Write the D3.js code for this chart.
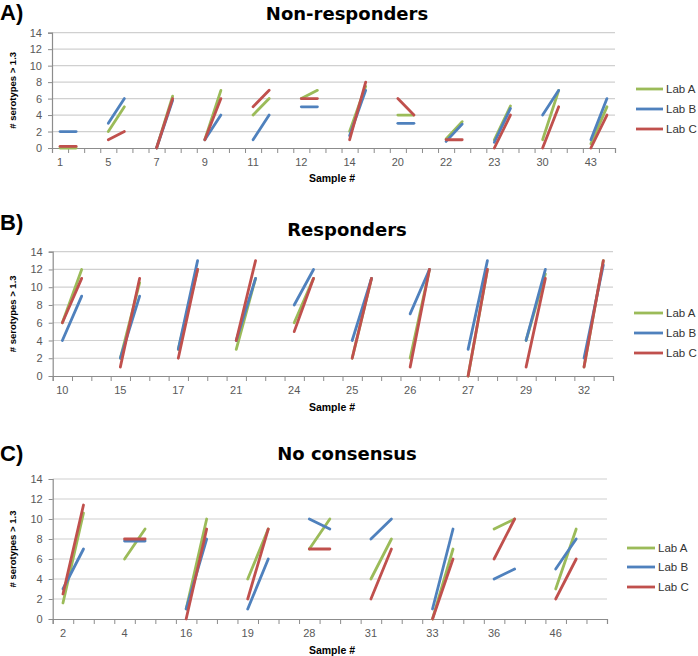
<!DOCTYPE html>
<html>
<head>
<meta charset="utf-8">
<script src="https://cdn.jsdelivr.net/npm/d3@7"></script>
<style>
  html, body { margin: 0; padding: 0; background: #fff; }
  svg { display: block; }
</style>
</head>
<body>
<svg id="chart" width="698" height="656"></svg>
<script>
// ---------- DATA ----------
const labs = ["Lab A", "Lab B", "Lab C"];
const labColors = ["#9BBB59", "#4F81BD", "#C0504D"];
const yTicks = [0, 2, 4, 6, 8, 10, 12, 14];

// Panel A: Non-responders  (each pair = [pre, post])
const samplesA = ["1", "5", "7", "9", "11", "12", "14", "20", "22", "23", "30", "43"];
const labA_A = [[0,0],[2,5],[0,6.3],[1,7],[4,6],[6,7],[2,7.5],[4,4],[1.1,3.2],[1,5.1],[1,7],[0.5,5]];
const labB_A = [[2,2],[3,6],[0,5.8],[1,4],[1,4],[5,5],[1.5,7],[3,3],[0.8,2.9],[0.7,4.8],[4,7],[1,6]];
const labC_A = [[0.2,0.2],[1,2],[0,6],[1,6],[5,7],[6,6],[1,8],[6,4],[1,1],[0,4],[0,5],[0,4]];

// Panel B: Responders
const samplesB = ["10", "15", "17", "21", "24", "25", "26", "27", "29", "32"];
const labA_B = [[6,12],[2,10.5],[3,12],[3,11],[6,11],[2,11],[2,12],[0,12],[4,11.5],[1,13]];
const labB_B = [[4,9],[2,9],[3,13],[4,11],[8,12],[4,11],[7,12],[3,13],[4,12],[2,12.5]];
const labC_B = [[6,11],[1,11],[2,12],[4,13],[5,11],[2,11],[1,12],[0,12],[1,11],[1,13]];

// Panel C: No consensus
const samplesC = ["2", "4", "16", "19", "28", "31", "33", "36", "46"];
const labA_C = [[1.6,10.6],[6,9],[1,10],[4,9],[7,10],[4,8],[0,7],[9,10],[3,9]];
const labB_C = [[3,7],[7.8,7.8],[1,8],[1,6],[10,9],[8,10],[1,9],[4,5],[5,8]];
const labC_C = [[2.5,11.4],[8,8],[0,9],[2,9],[7,7],[2,7],[0,6],[6,10],[2,6]];

// ---------- LAYOUT ----------
const panels = [
  { letter: "A)", title: "Non-responders", samples: samplesA, series: [labA_A, labB_A, labC_A], trailingBlank: false,
    x0: 52, x1: 615, yTop: 32.7, yBot: 148, letterY: 20, titleY: 20, tickY: 166, xLabY: 182,
    legX0: 636, legX1: 663, legY: [89, 109, 129] },
  { letter: "B)", title: "Responders", samples: samplesB, series: [labA_B, labB_B, labC_B], trailingBlank: false,
    x0: 52.7, x1: 613, yTop: 251.7, yBot: 376, letterY: 230, titleY: 236, tickY: 394, xLabY: 411,
    legX0: 634, legX1: 663, legY: [313, 333, 353] },
  { letter: "C)", title: "No consensus", samples: samplesC, series: [labA_C, labB_C, labC_C], trailingBlank: true,
    x0: 52.7, x1: 607, yTop: 479, yBot: 619, letterY: 461, titleY: 460, tickY: 637, xLabY: 654,
    legX0: 627, legX1: 655, legY: [548, 567, 587] }
];

const svg = d3.select("#chart");
const titleCenter = 347;

panels.forEach(p => {
  const g = svg.append("g");
  const nSlots = p.samples.length * 3 - (p.trailingBlank ? 0 : 1);
  const x = d3.scaleBand().domain(d3.range(nSlots)).range([p.x0, p.x1]).padding(0);
  const xb = d3.scaleLinear().domain([0, nSlots]).range([p.x0, p.x1]);
  const y = d3.scaleLinear().domain([0, 14]).range([p.yBot, p.yTop]);
  const bw = x.bandwidth();

  // gridlines
  g.append("g").selectAll("line").data(yTicks.filter(t => t > 0)).join("line")
    .attr("x1", p.x0).attr("x2", p.x1)
    .attr("y1", d => y(d)).attr("y2", d => y(d))
    .attr("stroke", "#d0d0d0").attr("stroke-width", 1.2);

  // y axis
  const ya = g.append("g").attr("transform", `translate(${p.x0},0)`)
    .call(d3.axisLeft(y).tickValues(yTicks).tickSize(4).tickPadding(6));
  ya.select(".domain").attr("stroke", "#8c8c8c").attr("stroke-width", 1.2);
  ya.selectAll(".tick line").attr("stroke", "#8c8c8c");
  ya.selectAll(".tick text").attr("fill", "#595959")
    .style("font-family", "Liberation Sans, Arial, sans-serif").style("font-size", "11px");

  // x axis boundary ticks
  const xt = g.append("g").attr("transform", `translate(0,${p.yBot})`)
    .call(d3.axisBottom(xb).tickValues(d3.range(nSlots + 1)).tickSize(5).tickFormat(""));
  xt.select(".domain").attr("stroke", "#8c8c8c").attr("stroke-width", 1.2);
  xt.selectAll(".tick line").attr("stroke", "#8c8c8c");

  // x category labels
  const xl = g.append("g").attr("transform", `translate(0,${p.yBot})`)
    .call(d3.axisBottom(x).tickSize(0).tickPadding(0)
      .tickFormat(i => (i % 3 === 0 ? p.samples[i / 3] : "")));
  xl.select(".domain").remove();
  xl.selectAll(".tick text").attr("fill", "#595959").attr("dy", null).attr("y", p.tickY - p.yBot)
    .style("font-family", "Liberation Sans, Arial, sans-serif").style("font-size", "11px");

  // series segments
  p.series.forEach((ser, si) => {
    g.append("g").selectAll("line").data(ser).join("line")
      .attr("x1", (d, i) => x(i * 3) + bw / 2)
      .attr("x2", (d, i) => x(i * 3 + 1) + bw / 2)
      .attr("y1", d => y(d[0]))
      .attr("y2", d => y(d[1]))
      .attr("stroke", labColors[si])
      .attr("stroke-width", 2.8)
      .attr("stroke-linecap", "round");
  });

  // letter
  g.append("text").attr("x", 0).attr("y", p.letterY).text(p.letter)
    .style("font-family", "Liberation Sans, Arial, sans-serif").style("font-weight", "bold")
    .style("font-size", "22px").attr("fill", "#000");

  // title
  g.append("text").attr("x", titleCenter).attr("y", p.titleY).attr("text-anchor", "middle").text(p.title)
    .style("font-family", "DejaVu Sans, sans-serif").style("font-weight", "bold")
    .style("font-size", "18px").attr("fill", "#000");

  // y axis label
  g.append("text")
    .attr("transform", `translate(16,${(p.yTop + p.yBot) / 2}) rotate(-90)`)
    .attr("text-anchor", "middle").text("# serotypes > 1.3")
    .style("font-family", "Liberation Sans, Arial, sans-serif").style("font-weight", "bold")
    .style("font-size", "9.5px").attr("fill", "#000");

  // x axis label
  g.append("text").attr("x", 332).attr("y", p.xLabY).attr("text-anchor", "middle").text("Sample #")
    .style("font-family", "Liberation Sans, Arial, sans-serif").style("font-weight", "bold")
    .style("font-size", "10.5px").attr("fill", "#000");

  // legend
  const lg = g.append("g");
  labs.forEach((lab, li) => {
    lg.append("line").attr("x1", p.legX0).attr("x2", p.legX1)
      .attr("y1", p.legY[li]).attr("y2", p.legY[li])
      .attr("stroke", labColors[li]).attr("stroke-width", 2.8);
    lg.append("text").attr("x", p.legX1 + 3).attr("y", p.legY[li] + 4).text(lab)
      .style("font-family", "Liberation Sans, Arial, sans-serif")
      .style("font-size", "11.5px").attr("fill", "#333");
  });
});
</script>
</body>
</html>
